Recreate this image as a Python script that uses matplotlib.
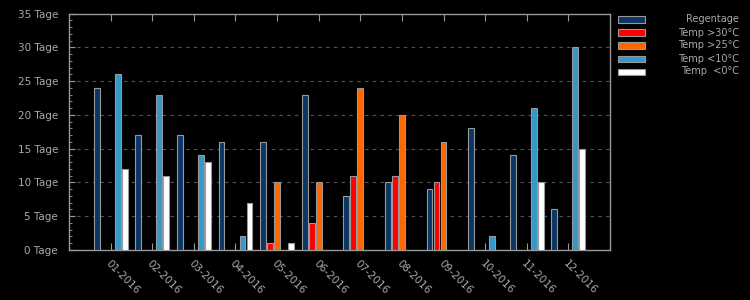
import matplotlib
matplotlib.use('Agg')
import matplotlib.pyplot as plt
import numpy as np
from matplotlib.patches import Rectangle
from matplotlib.ticker import FuncFormatter, MultipleLocator

months = ['01-2016', '02-2016', '03-2016', '04-2016', '05-2016', '06-2016',
          '07-2016', '08-2016', '09-2016', '10-2016', '11-2016', '12-2016']
regentage = [24, 17, 17, 16, 16, 23, 8, 10, 9, 18, 14, 6]
temp_gt30 = [0, 0, 0, 0, 1, 4, 11, 11, 10, 0, 0, 0]
temp_gt25 = [0, 0, 0, 0, 10, 10, 24, 20, 16, 0, 0, 0]
temp_lt10 = [26, 23, 14, 2, 0, 0, 0, 0, 0, 2, 21, 30]
temp_lt0 = [12, 11, 13, 7, 1, 0, 0, 0, 0, 0, 10, 15]

series_names = ['Regentage', 'Temp >30°C', 'Temp >25°C', 'Temp <10°C', 'Temp  <0°C']
series_values = [regentage, temp_gt30, temp_gt25, temp_lt10, temp_lt0]
colors = ['#0b3665', '#ff0000', '#ff6600', '#3399cc', '#ffffff']

grey = '#aaaaaa'
edge = '#999999'

fig = plt.figure(figsize=(7.5, 3), dpi=100, facecolor='black')
ax = fig.add_axes([69 / 750, 50 / 300, 541 / 750, 236.5 / 300])
ax.set_facecolor('black')

x = np.arange(len(months))
step = 0.168
width = 0.14
for i, (vals, col) in enumerate(zip(series_values, colors)):
    v = np.array(vals, dtype=float)
    m = v > 0
    ax.bar(x[m] + (i - 2) * step, v[m], width, color=col, edgecolor=edge, linewidth=0.8, zorder=3)

ax.set_xlim(-1, 12)
ax.set_ylim(0, 35)
ax.yaxis.set_major_locator(MultipleLocator(5))
ax.yaxis.set_minor_locator(MultipleLocator(1))
ax.yaxis.set_major_formatter(FuncFormatter(lambda v, p: '%d Tage' % v))
ax.set_xticks(x)
ax.set_xticklabels(months, rotation=-45, ha='left', va='top', rotation_mode='anchor')

for g in range(5, 35, 5):
    ax.axhline(g, color='#555555', lw=0.8, ls=(0, (3, 4)), zorder=1)

for s in ax.spines.values():
    s.set_color(edge)
    s.set_linewidth(1)

ax.tick_params(axis='y', which='major', direction='in', length=4, color=edge,
               labelcolor=grey, labelsize=7.5, pad=8)
ax.tick_params(axis='y', which='minor', direction='in', length=2.5, color=edge)
ax.tick_params(axis='x', which='major', direction='in', length=5, color=edge,
               labelcolor=grey, labelsize=7.5, pad=6, top=True)

# legend drawn by hand, text right-aligned
for i, (name, col) in enumerate(zip(series_names, colors)):
    yc = 1 - (19.5 + i * 13) / 300
    fig.patches.append(Rectangle((618 / 750, yc - 3 / 300), 27 / 750, 6 / 300,
                                 transform=fig.transFigure, facecolor=col,
                                 edgecolor=edge, linewidth=0.8))
    fig.text(739 / 750, yc, name, color=grey, fontsize=7, ha='right', va='center')

fig.savefig('out.png', dpi=100, facecolor='black')
